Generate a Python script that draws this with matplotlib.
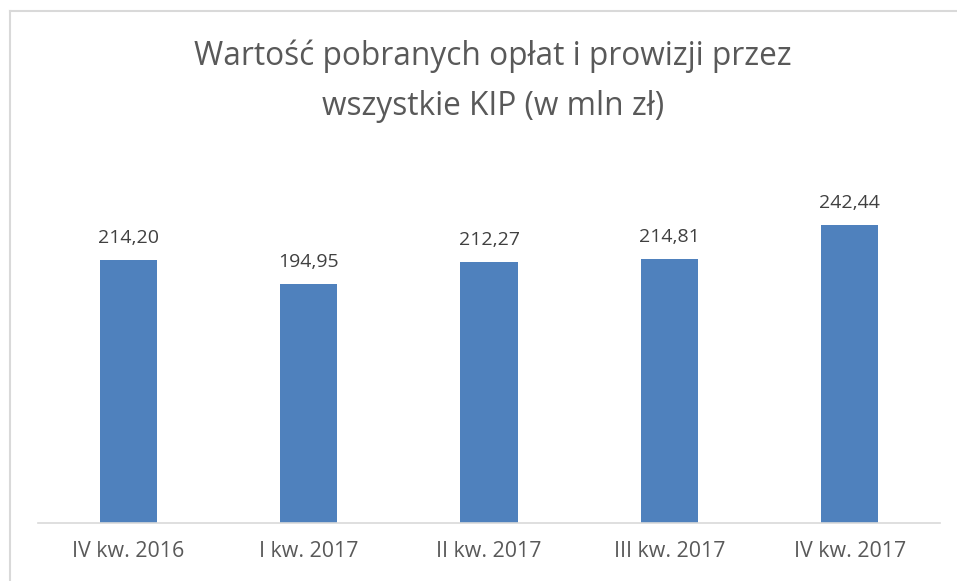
import matplotlib
matplotlib.use("Agg")
import matplotlib.pyplot as plt
from matplotlib.lines import Line2D

categories = ["IV kw. 2016", "I kw. 2017", "II kw. 2017", "III kw. 2017", "IV kw. 2017"]
values = [214.20, 194.95, 212.27, 214.81, 242.44]
labels = ["214,20", "194,95", "212,27", "214,81", "242,44"]
title_lines = ["Wartość pobranych opłat i prowizji przez", "wszystkie KIP (w mln zł)"]

plt.rcParams['font.family'] = ['Open Sans', 'DejaVu Sans']

W, H = 957, 581
fig = plt.figure(figsize=(W / 100, H / 100), dpi=100)

# outer frame (left and top edges visible)
fig.add_artist(Line2D([9.5 / W, 9.5 / W], [0, 1 - 10.5 / H], transform=fig.transFigure,
                      color="#d9d9d9", linewidth=1.5))
fig.add_artist(Line2D([9.5 / W, 1], [1 - 10.5 / H, 1 - 10.5 / H], transform=fig.transFigure,
                      color="#d9d9d9", linewidth=1.5))

ax_left, ax_right = 38 / W, 940 / W
ax_bottom = 1 - 522.5 / H
ax_top = 1 - 150 / H
ax = fig.add_axes([ax_left, ax_bottom, ax_right - ax_left, ax_top - ax_bottom])
ymax = (522.5 - 150) / 1.2255
ax.set_ylim(0, ymax)
ax.set_xlim(-0.5, len(categories) - 0.5)

x = range(len(categories))
bars = ax.bar(x, values, width=0.317, color="#4f81bd", zorder=2)
for xi, v, lab in zip(x, values, labels):
    ax.annotate(lab, (xi, v), xytext=(0, 12.2), textcoords="offset points",
                ha="center", va="baseline", fontsize=14, color="#404040")

ax.set_xticks(list(x))
ax.set_xticklabels(categories, fontsize=15.4, color="#595959")
ax.tick_params(axis="x", length=0, pad=13)
ax.set_yticks([])
for s in ["top", "right", "left"]:
    ax.spines[s].set_visible(False)
ax.spines["bottom"].set_color("#d9d9d9")
ax.spines["bottom"].set_linewidth(1.2)
ax.patch.set_visible(False)

title_x = 493 / W
for line, yb in zip(title_lines, [65, 115]):
    fig.text(title_x, 1 - yb / H, line, ha="center", va="baseline",
             fontsize=22.8, color="#595959")

fig.savefig("out.png", dpi=100)
